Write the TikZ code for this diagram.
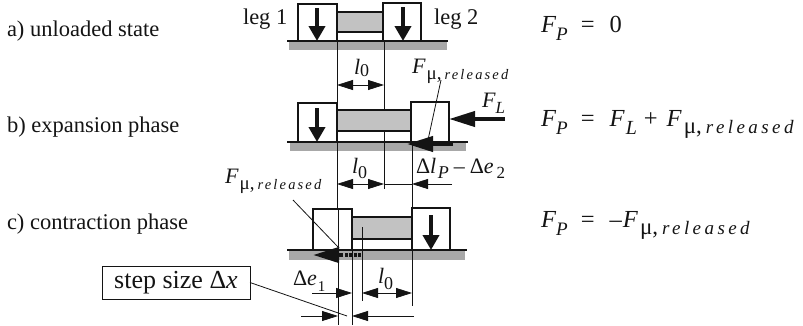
\documentclass[tikz,border=0pt]{standalone}
\usepackage{fontspec}
\setmainfont{Liberation Serif}
\usetikzlibrary{arrows.meta,patterns}
\definecolor{ink}{gray}{0.08}
\definecolor{hatch}{gray}{0.66}
\definecolor{barfill}{gray}{0.76}
\newcommand{\fs}[1]{\fontsize{#1}{#1}\selectfont}
\newcommand{\sbs}[3]{\raisebox{-#1pt}{\fs{#2}#3}}
\newcommand{\Fsmall}{\textit{F}\hspace{1pt}\raisebox{-6pt}{\fs{19}μ,\hspace{3pt}\fs{14.5}\itshape\addfontfeature{LetterSpace=15}released}}
\newcommand{\Flarge}{\textit{F}\hspace{2pt}\raisebox{-7pt}{\fs{23}μ,\hspace{4pt}\fs{19}\itshape\addfontfeature{LetterSpace=18}released}}
\tikzset{
  x=1pt,y=-1pt,
  every node/.style={inner sep=0pt,outer sep=0pt,text=ink},
  legbox/.style={draw=ink,line width=1.2pt,fill=white},
  barbox/.style={draw=ink,line width=1.2pt,fill=barfill},
  gnd/.style={draw=ink,line width=1.3pt},
  hatchband/.style={fill=hatch},
  guide/.style={draw=ink,line width=0.8pt},
  load/.style={draw=ink,line width=4pt,-{Triangle[length=15pt,width=16pt]}},
  push/.style={draw=ink,line width=4pt,-{Triangle[length=26pt,width=15pt]}},
  dim/.style={draw=ink,line width=0.8pt,-{Triangle[length=16pt,width=10pt]}},
  lab/.style={font=\fs{22.5},anchor=base west},
  eqn/.style={font=\fs{24.5},anchor=base west},
  smalllab/.style={font=\fs{22},anchor=base west}
}
\begin{document}
\begin{tikzpicture}
\useasboundingbox (0,0) rectangle (803,325);
% row a
\node[lab] (ta) at (7,36) {a) unloaded state};
\node[lab] (leg1) at (243,24) {leg 1};
\node[lab] (leg2) at (434,24) {leg 2};
\fill[hatchband] (289,41) rectangle (447,50);
\draw[barbox] (337,12) rectangle (383,32);
\draw[legbox] (298,4) rectangle (337,41);
\draw[legbox] (383,3) rectangle (421,41);
\draw[gnd] (287,41) -- (448,41);
\coordinate (a1t) at (317,8); \coordinate (a1b) at (317,41);
\coordinate (a2t) at (403,7); \coordinate (a2b) at (403,41);
\draw[load] (a1t) -- (a1b);
\draw[load] (a2t) -- (a2b);
% guides
\draw[guide] (337,41) -- (337,103);
\draw[guide] (384,41) -- (384,111);
\node[smalllab] (l0a) at (354,74) {\textit{l}\sbs{2}{18}{0}};
\coordinate (dam) at (361,85);
\draw[dim] (dam) -- (337,85);
\draw[dim] (dam) -- (384,85);
% row b
\node[lab] (tb) at (7,132) {b) expansion phase};
\fill[hatchband] (290,142) rectangle (466,151);
\draw[barbox] (337,110) rectangle (411,131);
\draw[legbox] (298,103) rectangle (337,142);
\draw[legbox] (411,102) rectangle (449,142);
\draw[gnd] (287,142) -- (468,142);
\draw[load] (317,108) -- (317,142);
\coordinate (flt) at (505,119); \coordinate (flh) at (449,119);
\draw[push] (flt) -- (flh);
\node[smalllab] (fl) at (482,107) {\textit{F}\sbs{6}{17}{\textit{L}}};
\coordinate (fmt) at (453,144); \coordinate (fmh) at (407,144);
\draw[push] (fmt) -- (fmh);
\draw[guide] (337,142) -- (337,209);
\draw[guide] (384,131) -- (384,189);
\draw[guide] (412,142) -- (412,208);
\node[smalllab] (l0b) at (352,173) {\textit{l}\sbs{5}{18}{0}};
\coordinate (dbm) at (361,184);
\draw[dim] (dbm) -- (337,184);
\draw[dim] (dbm) -- (384,184);
\draw[dim] (452,184) -- (412,184);
\draw[guide] (384,184) -- (412,184);
\node[smalllab] (dlp) at (416,173) {Δ\textit{l}\hspace{1.5pt}\sbs{5}{18}{\textit{P}}\hspace{5pt}–\hspace{5pt}Δ\textit{e}\hspace{3pt}\sbs{5}{17}{2}};
\node[smalllab] (fmb) at (412,73) {\Fsmall};
\coordinate (pb1) at (441,80); \coordinate (pb2) at (428,140);
\draw[guide] (pb1) -- (pb2);
% row c
\node[lab] (tc) at (7,229) {c) contraction phase};
\fill[hatchband] (289,250) rectangle (465,260);
\draw[barbox] (352,217) rectangle (412,239);
\draw[legbox] (313,209) rectangle (352,250);
\draw[legbox] (412,208) rectangle (450,250);
\draw[gnd] (287,250) -- (467,250);
\draw[load] (431,215) -- (431,250);
\coordinate (fct) at (361,255); \coordinate (fcm) at (340,255); \coordinate (fch) at (313,255);
\draw[ink,line width=3.5pt,dash pattern=on 3pt off 1.5pt] (fct) -- (fcm);
\draw[push] (fcm) -- (fch);
\draw[guide] (338,209) -- (338,325);
\draw[guide] (352,250) -- (352,325);
\draw[guide] (362,227) -- (362,301);
\draw[guide] (412,239) -- (412,306);
\node[smalllab] (fmc) at (225,183) {\Fsmall};
\coordinate (pc1) at (293,200); \coordinate (pc2) at (339,248);
\draw[guide] (pc1) -- (pc2);
\node[smalllab] (de1) at (293,285) {Δ\textit{e}\hspace{1pt}\sbs{6}{15}{1}};
\node[smalllab] (l0c) at (378,283) {\textit{l}\sbs{6}{18}{0}};
\coordinate (d1) at (312,293);
\draw[dim] (d1) -- (352,293);
\coordinate (dcm) at (387,293);
\draw[dim] (dcm) -- (362,293);
\draw[dim] (dcm) -- (412,293);
\coordinate (d2) at (301,316); \coordinate (d3) at (414,316);
\draw[dim] (d2) -- (338,316);
\draw[dim] (d3) -- (352,316);
\node[draw=ink,line width=0.9pt,minimum width=148pt,minimum height=33pt,font=\fs{26},anchor=west,text=ink] (stepb) at (102,282.5) {step size Δ\textit{x}};
\coordinate (sx) at (347,316);
\draw[guide] (stepb.east) -- (sx);
% equations
\node[eqn] (e1) at (541,32) {\textit{F}\sbs{8}{19}{\textit{P}}\hspace{13pt}=\hspace{15pt}0};
\node[eqn] (e2) at (541,126) {\textit{F}\sbs{8}{19}{\textit{P}}\hspace{13pt}=\hspace{15pt}\textit{F}\hspace{1pt}\sbs{8}{20}{\textit{L}}\hspace{7pt}+\hspace{9pt}\Flarge};
\node[eqn] (e3) at (541,227) {\textit{F}\sbs{8}{19}{\textit{P}}\hspace{13pt}=\hspace{15pt}–\hspace{1pt}\Flarge};
\end{tikzpicture}
\end{document}
